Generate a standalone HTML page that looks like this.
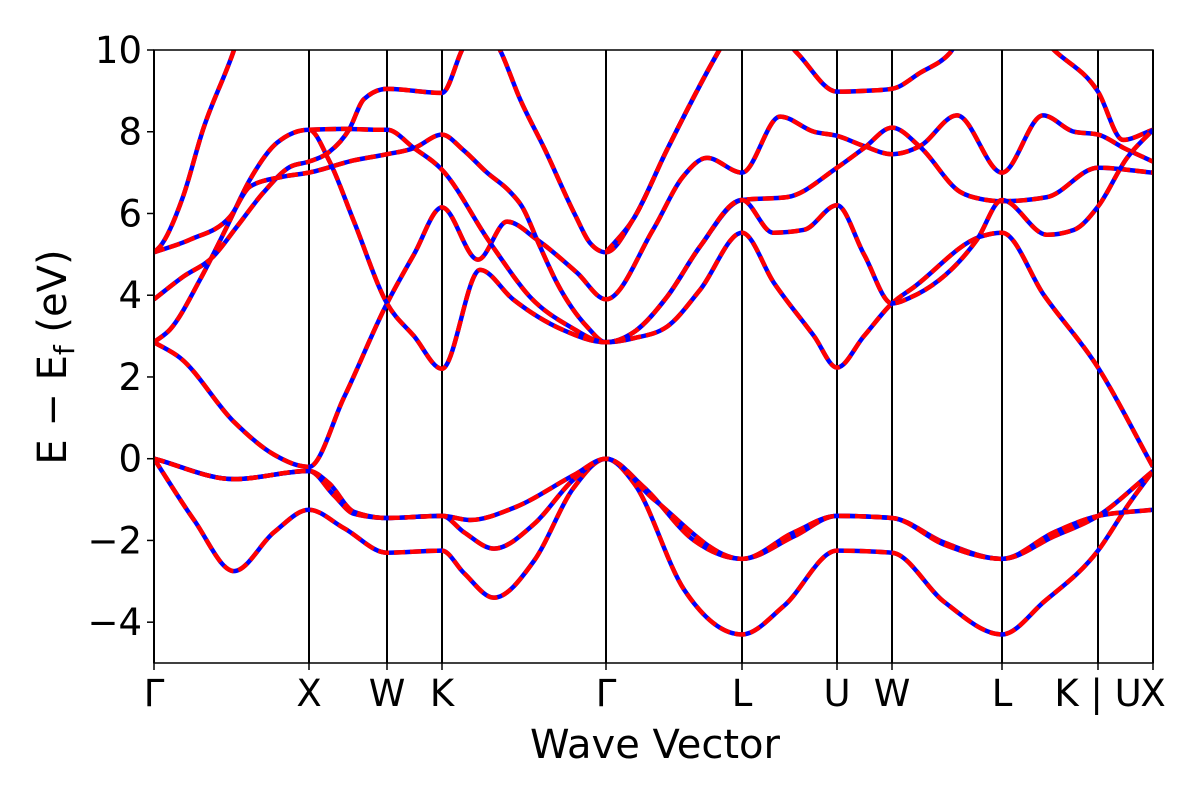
<!DOCTYPE html>
<html><head><meta charset="utf-8"><style>
body{margin:0;background:#fff;}
svg{display:block;font-family:"DejaVu Sans","Liberation Sans",sans-serif;}
</style></head><body>
<svg id="chart" width="1200" height="800" viewBox="0 0 1200 800">
<defs><clipPath id="clip"><rect x="154" y="50" width="999" height="613"/></clipPath></defs>
<g id="vlines"></g>
<g id="bands" clip-path="url(#clip)"></g>
<rect x="154" y="50" width="999" height="613" fill="none" stroke="#000" stroke-width="1.5"/>
<g id="yticks"></g>
<g id="xticks"></g>
<text x="655" y="758" font-size="40" text-anchor="middle">Wave Vector</text>
<text transform="translate(66,357) rotate(-90)" font-size="40" text-anchor="middle">E − E<tspan font-size="28" dy="8">f</tspan><tspan dy="-8"> (eV)</tspan></text>
</svg>
<script>
const kLabels = ["Γ","X","W","K","Γ","L","U","W","L","K | U","X"];
const kTicks = [0,1.55,2.33,2.88,4.52,5.88,6.83,7.38,8.48,9.44,9.99];
const yTicks = [10,8,6,4,2,0,-2,-4];
const V1 = [[0,0],[0.4,-1.5],[0.8,-2.75],[1.2,-1.8],[1.55,-1.25],[1.9,-1.7],[2.33,-2.3],[2.88,-2.25],[3.1,-2.8],[3.4,-3.4],[3.8,-2.5],[4.2,-0.7],[4.52,0],[4.8,-0.6],[5.3,-3.2],[5.88,-4.3],[6.3,-3.6],[6.83,-2.25],[7.38,-2.3],[7.9,-3.5],[8.48,-4.3],[8.9,-3.5],[9.44,-2.25],[9.75,-1.1],[9.99,-0.3]];
const V2 = [[0,0],[0.8,-0.5],[1.55,-0.3],[1.8,-0.9],[2.0,-1.35],[2.33,-1.45],[2.88,-1.4],[3.1,-1.8],[3.4,-2.2],[3.8,-1.6],[4.2,-0.5],[4.52,0],[4.9,-0.7],[5.4,-2.0],[5.88,-2.45],[6.4,-1.9],[6.83,-1.4],[7.38,-1.45],[7.9,-2.05],[8.48,-2.45],[9.0,-1.9],[9.44,-1.4],[9.99,-0.3]];
const V3 = [[0,0],[0.8,-0.5],[1.55,-0.3],[1.75,-0.6],[2.0,-1.3],[2.33,-1.45],[2.88,-1.4],[3.16,-1.5],[3.6,-1.2],[4.2,-0.4],[4.52,0],[5.0,-1.0],[5.88,-2.45],[6.4,-1.8],[6.83,-1.4],[7.38,-1.45],[7.9,-2.1],[8.48,-2.45],[9.0,-1.8],[9.44,-1.4],[9.99,-1.25]];
const C1 = [[0,2.85],[0.26,2.47],[0.8,0.9],[1.2,0.1],[1.55,-0.2],[1.9,1.5],[2.33,3.8],[2.6,5.0],[2.88,6.15],[3.24,4.87],[3.53,5.8],[3.83,5.36],[4.23,4.55],[4.52,3.9],[4.99,5.6],[5.29,6.9],[5.53,7.36],[5.88,7.0],[6.26,8.37],[6.6,8.0],[6.83,7.9],[7.1,7.65],[7.38,7.45],[7.66,7.65],[8.03,8.4],[8.48,7.0],[8.89,8.4],[9.2,8.0],[9.44,7.93],[9.7,7.6],[9.99,7.27]];
const C2 = [[0,2.85],[0.16,3.16],[0.46,4.38],[0.73,5.68],[0.96,6.83],[1.23,7.73],[1.55,8.05],[1.75,7.3],[2.0,5.8],[2.33,3.8],[2.6,3.0],[2.88,2.2],[3.26,4.62],[3.59,3.9],[4.09,3.15],[4.52,2.85],[4.8,2.95],[5.13,3.23],[5.46,4.13],[5.88,5.53],[6.2,4.3],[6.6,3.0],[6.83,2.23],[7.1,3.0],[7.38,3.8],[7.6,4.2],[8.26,5.43],[8.48,5.53],[8.9,4.0],[9.44,2.23],[9.99,-0.2]];
const C3 = [[0,3.9],[0.29,4.45],[0.59,4.94],[0.83,5.68],[1.09,6.5],[1.36,7.14],[1.55,7.27],[1.75,7.5],[1.95,8.05],[2.1,8.8],[2.33,9.05],[2.88,8.95],[3.08,10.0],[3.25,10.8],[3.46,10.0],[3.66,8.8],[3.91,7.56],[4.21,5.97],[4.36,5.28],[4.52,5.05],[4.79,5.85],[5.13,7.56],[5.63,9.9],[5.9,11],[6.0,11],[6.43,9.93],[6.83,8.98],[7.1,9.0],[7.38,9.05],[7.66,9.44],[7.96,9.93],[8.2,10.8],[8.6,10.8],[9.03,9.93],[9.44,8.98],[9.69,7.8],[9.99,8.05]];
const C4 = [[0,5.05],[0.36,5.36],[0.76,5.92],[0.96,6.66],[1.29,6.9],[1.55,7.0],[2.0,7.3],[2.33,7.45],[2.6,7.6],[2.88,7.93],[3.09,7.56],[3.33,7.0],[3.56,6.53],[3.68,6.17],[3.86,5.19],[4.03,4.3],[4.33,3.23],[4.52,2.85],[4.8,3.1],[5.13,3.96],[5.46,5.19],[5.88,6.33],[6.33,6.4],[6.83,7.12],[7.1,7.6],[7.38,8.1],[7.66,7.63],[8.06,6.53],[8.26,6.36],[8.48,6.3],[8.93,6.4],[9.44,7.12],[9.99,7.0]];
const C5 = [[1.55,8.05],[1.9,8.07],[2.2,8.05],[2.33,8.05],[2.6,7.6],[2.88,7.07],[3.34,5.36],[3.43,5.04],[3.76,3.96],[4.16,3.23],[4.52,2.85],[4.8,3.1],[5.13,3.96],[5.46,5.19],[5.88,6.33],[6.19,5.53],[6.5,5.6],[6.83,6.2],[7.1,5.0],[7.38,3.8],[7.56,3.94],[8.23,5.36],[8.48,6.33],[8.93,5.48],[9.2,5.6],[9.44,6.17],[9.73,7.36],[9.99,8.05]];
const C6 = [[0,5.05],[0.06,5.19],[0.29,6.41],[0.49,8.05],[0.79,9.93],[1.0,11.5]];
const C7 = [[4.52,5.05],[4.79,5.85],[5.13,7.56],[5.63,9.9],[5.9,11]];
const bands = [V1,V2,V3,C1,C2,C3,C4,C5,C6,C7];

const X0=154, Y0=458.7, SX=100, SY=40.87;
const xs = k => X0 + k*SX;
const ys = e => Y0 - e*SY;
const NS="http://www.w3.org/2000/svg";
function mk(tag, attrs, parent){const el=document.createElementNS(NS,tag);for(const a in attrs)el.setAttribute(a,attrs[a]);parent.appendChild(el);return el;}

function monotone(pts){
  const P=pts.map(p=>[xs(p[0]),ys(p[1])]);const n=P.length;
  const d=[],h=[];for(let i=0;i<n-1;i++){h.push(P[i+1][0]-P[i][0]);d.push((P[i+1][1]-P[i][1])/h[i]);}
  const t=new Array(n);t[0]=d[0];t[n-1]=d[n-2];
  for(let i=1;i<n-1;i++){const s0=d[i-1],s1=d[i];const p=(s0*h[i]+s1*h[i-1])/(h[i-1]+h[i]);
    t[i]=(Math.sign(s0)+Math.sign(s1))*Math.min(Math.abs(s0),Math.abs(s1),0.5*Math.abs(p));}
  let s="M"+P[0][0]+","+P[0][1];
  for(let i=0;i<n-1;i++){const dx=h[i]/3;s+=" C"+(P[i][0]+dx)+","+(P[i][1]+t[i]*dx)+" "+(P[i+1][0]-dx)+","+(P[i+1][1]-t[i+1]*dx)+" "+P[i+1][0]+","+P[i+1][1];}
  return s;
}

const vg=document.getElementById('vlines');
kTicks.forEach((k,i)=>{
  const l=mk('line',{x1:xs(k),x2:xs(k),y1:50,y2:663,stroke:'#000','stroke-width':2},vg);
  
  
});
const bg=document.getElementById('bands');
bands.forEach((b,i)=>{
  const d=monotone(b);
  const p1=mk('path',{d:d,fill:'none',stroke:'#0000ff','stroke-width':4.5},bg);
  
  
  const p2=mk('path',{d:d,fill:'none',stroke:'#ff0000','stroke-width':4.5,'stroke-dasharray':'11 5'},bg);
  
  
});
const yg=document.getElementById('yticks');
yTicks.forEach(v=>{
  const l=mk('line',{x1:147,x2:154,y1:ys(v),y2:ys(v),stroke:'#000','stroke-width':1.5},yg);
  
  
  const t=mk('text',{x:142,y:ys(v)+13,'font-size':37,'text-anchor':'end'},yg);
  
  
  t.textContent=v<0?"−"+(-v):String(v);
});
const xg=document.getElementById('xticks');
kTicks.forEach((k,i)=>{
  const l=mk('line',{x1:xs(k),x2:xs(k),y1:663,y2:670,stroke:'#000','stroke-width':1.5},xg);
  
  
  const t=mk('text',{x:xs(k),y:706,'font-size':37,'text-anchor':'middle'},xg);
  
  
  t.textContent=kLabels[i];
});
</script>
</body></html>
